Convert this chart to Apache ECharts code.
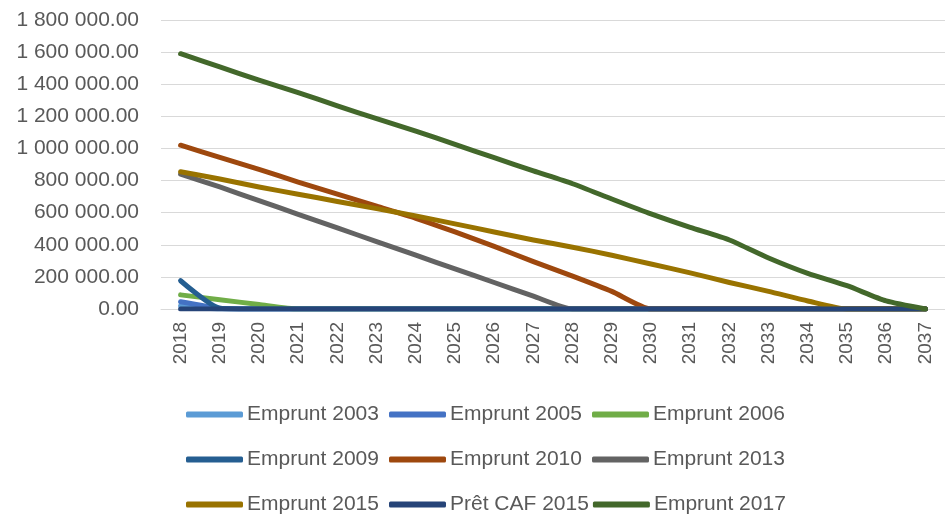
<!DOCTYPE html>
<html>
<head>
<meta charset="utf-8">
<script src="https://cdn.jsdelivr.net/npm/echarts@6/dist/echarts.min.js"></script>
<style>
  html, body { margin: 0; padding: 0; background: #fff; }
  #chart { width: 945px; height: 515px; }
</style>
</head>
<body>
<div id="chart"></div>
<script>
// Remaining capital per loan, by year
const years = ['2018','2019','2020','2021','2022','2023','2024','2025','2026','2027',
               '2028','2029','2030','2031','2032','2033','2034','2035','2036','2037'];

const emprunt2003 = [20000, 0, 0, 0, 0, 0, 0, 0, 0, 0, 0, 0, 0, 0, 0, 0, 0, 0, 0, 0];
const emprunt2005 = [45000, 5000, 0, 0, 0, 0, 0, 0, 0, 0, 0, 0, 0, 0, 0, 0, 0, 0, 0, 0];
const emprunt2006 = [88000, 58000, 28000, 0, 0, 0, 0, 0, 0, 0, 0, 0, 0, 0, 0, 0, 0, 0, 0, 0];
const emprunt2009 = [176000, 5000, 0, 0, 0, 0, 0, 0, 0, 0, 0, 0, 0, 0, 0, 0, 0, 0, 0, 0];
const emprunt2010 = [1020000, 945000, 870000, 790000, 715000, 640000, 565000, 480000, 390000, 295000,
                     205000, 110000, 0, 0, 0, 0, 0, 0, 0, 0];
const emprunt2013 = [840000, 760000, 675000, 590000, 505000, 420000, 335000, 250000, 165000, 80000,
                     0, 0, 0, 0, 0, 0, 0, 0, 0, 0];
const emprunt2015 = [855000, 810000, 760000, 715000, 670000, 625000, 580000, 530000, 480000, 430000,
                     385000, 335000, 280000, 225000, 165000, 110000, 50000, 0, 0, 0];
const pretCaf2015 = [0, 0, 0, 0, 0, 0, 0, 0, 0, 0, 0, 0, 0, 0, 0, 0, 0, 0, 0, 0];
const emprunt2017 = [1590000, 1508000, 1425000, 1348000, 1265000, 1185000, 1108000, 1025000, 943000, 860000,
                     780000, 685000, 592000, 508000, 430000, 318000, 222000, 145000, 50000, 0];

const seriesDefs = [
  { name: 'Emprunt 2003', data: emprunt2003, color: '#5B9BD5' },
  { name: 'Emprunt 2005', data: emprunt2005, color: '#4472C4' },
  { name: 'Emprunt 2006', data: emprunt2006, color: '#70AD47' },
  { name: 'Emprunt 2009', data: emprunt2009, color: '#255E91' },
  { name: 'Emprunt 2010', data: emprunt2010, color: '#9E480E' },
  { name: 'Emprunt 2013', data: emprunt2013, color: '#636363' },
  { name: 'Emprunt 2015', data: emprunt2015, color: '#997300' },
  { name: 'Prêt CAF 2015', data: pretCaf2015, color: '#264478' },
  { name: 'Emprunt 2017', data: emprunt2017, color: '#43682B' }
];

const FONT = '"Liberation Sans", Arial, sans-serif';
const TEXT_COLOR = '#595959';

function formatAmount(v) {
  const parts = v.toFixed(2).split('.');
  const intPart = parts[0].replace(/\B(?=(\d{3})+(?!\d))/g, ' ');
  return intPart + '.' + parts[1];
}

const chart = echarts.init(document.getElementById('chart'), null, { renderer: 'canvas' });

chart.setOption({
  animation: false,
  backgroundColor: '#ffffff',
  grid: { left: 161, right: -3, top: 20, bottom: 206, containLabel: false },
  xAxis: {
    type: 'category',
    data: years,
    boundaryGap: true,
    axisLine: { show: true, lineStyle: { color: '#D9D9D9', width: 1 } },
    axisTick: { show: false },
    axisLabel: {
      rotate: 90,
      margin: 13,
      color: TEXT_COLOR,
      fontFamily: FONT,
      fontSize: 19,
      interval: 0
    },
    splitLine: { show: false }
  },
  yAxis: {
    type: 'value',
    min: 0,
    max: 1800000,
    interval: 200000,
    axisLine: { show: false },
    axisTick: { show: false },
    axisLabel: {
      margin: 22,
      color: TEXT_COLOR,
      fontFamily: FONT,
      fontSize: 21,
      formatter: formatAmount
    },
    splitLine: { show: true, lineStyle: { color: '#D9D9D9', width: 1 } }
  },
  legend: {
    left: 186,
    top: 394,
    width: 640,
    padding: 0,
    orient: 'horizontal',
    icon: 'roundRect',
    itemWidth: 57,
    itemHeight: 6,
    itemGap: 4,
    textStyle: {
      color: TEXT_COLOR,
      fontFamily: FONT,
      fontSize: 21,
      lineHeight: 41,
      width: 138,
      padding: [0, 0, 0, -1]
    },
    data: seriesDefs.map(s => s.name)
  },
  series: seriesDefs.map(s => ({
    name: s.name,
    type: 'line',
    data: s.data,
    smooth: 0.2,
    showSymbol: false,
    symbol: 'none',
    color: s.color,
    lineStyle: { color: s.color, width: 5, cap: 'round', join: 'round' },
    itemStyle: { color: s.color }
  }))
});
</script>
</body>
</html>
